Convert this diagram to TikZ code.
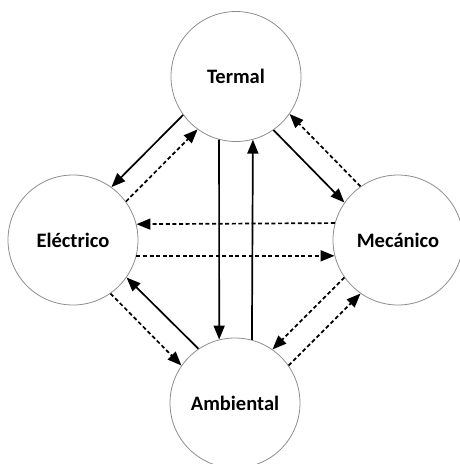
\documentclass[tikz,border=0pt]{standalone}
\usepackage{fontspec}
\setmainfont{Carlito}
\usetikzlibrary{arrows.meta}
\begin{document}
\begin{tikzpicture}[x=1pt,y=-1pt,
  state/.style={circle, draw=black!45, line width=0.8pt, minimum size=130pt, inner sep=0pt,
    font=\fontsize{20.5}{24}\selectfont\bfseries},
  flow/.style={line width=1.7pt, -{Triangle[length=14pt,width=11pt]}},
  dflow/.style={flow, dash pattern=on 4pt off 2.6pt}]
\useasboundingbox (0,0) rectangle (460,464);
\clip (0,0) rectangle (460,464);
\node[state] (T) at (236,76.5) {Termal};
\node[state] (E) at (73,240) {Eléctrico};
\node[state] (M) at (398,240) {Mecánico};
\node[state] (A) at (235,403) {Ambiental};
% Termal - Electrico
\draw[flow]  (T.216) -- (E.54);
\draw[dflow] (E.36) -- (T.234);
% Termal - Mecanico
\draw[flow]  (T.305) -- (M.145);
\draw[dflow] (M.125) -- (T.325);
% Electrico - Mecanico
\draw[dflow] (M.165.3) -- (E.14.7);
\draw[dflow] (E.-14.7) -- (M.194.7);
% Termal - Ambiental
\draw[flow]  (T.255.5) -- (A.104.5);
\draw[flow]  (A.75) -- (T.285);
% Electrico - Ambiental
\draw[flow]  (A.124) -- (E.325);
\draw[dflow] (E.305) -- (A.145);
% Mecanico - Ambiental
\draw[dflow] (M.215) -- (A.55);
\draw[dflow] (A.35) -- (M.235);
\end{tikzpicture}
\end{document}
